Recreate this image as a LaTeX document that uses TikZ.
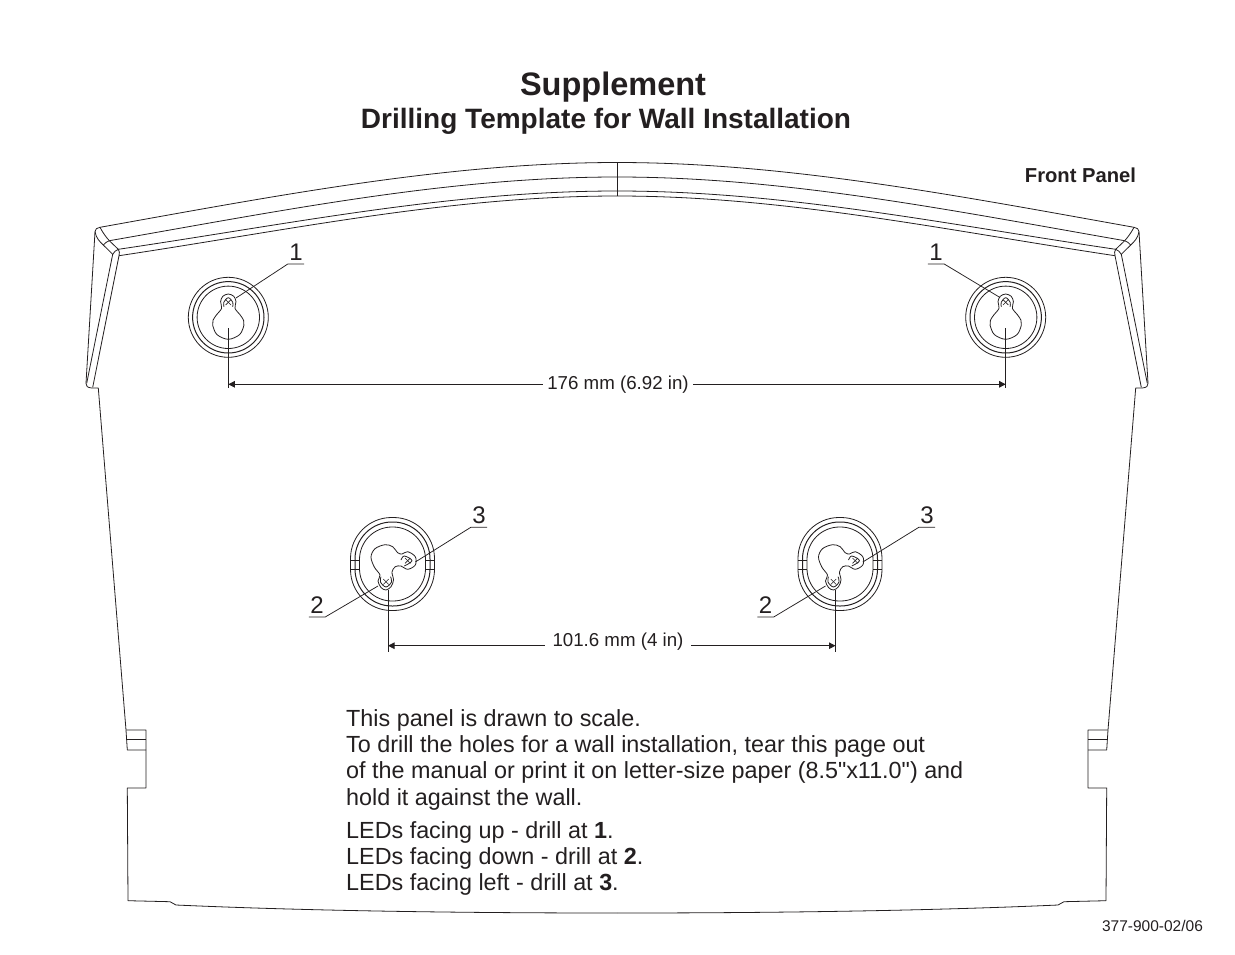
\documentclass[tikz,border=0pt]{standalone}
\usepackage{fontspec}
\setmainfont{Liberation Sans}[Ligatures=TeXOff]
\usepackage{xcolor}
\usetikzlibrary{arrows.meta}
\definecolor{inkblack}{HTML}{231F20}
\tikzset{
	panelline/.style={inkblack,line width=0.8pt,line join=round},
	leaderline/.style={inkblack,line width=0.75pt},
	dimline/.style={inkblack,line width=0.8pt,-{Triangle[length=6.5pt,width=6.5pt]}},
	callout/.style={inkblack,font=\fontsize{24}{24}\selectfont,inner xsep=0pt,inner ysep=3.5pt,minimum width=16pt,anchor=south},
	dimtext/.style={inkblack,font=\fontsize{18.7}{20}\selectfont,fill=white,inner ysep=1pt},
	bodytext/.style={inkblack,font=\fontsize{23.35}{26.3}\selectfont,align=left,anchor=north west,inner sep=0pt}
}
\newcommand{\screwcross}{
	\draw[leaderline,line width=0.6pt] (-2.7,-2.7) -- (2.7,2.7);
	\draw[leaderline,line width=0.6pt] (-2.7,2.7) -- (2.7,-2.7);
}
\begin{document}
\begin{tikzpicture}[x=1pt,y=-1pt]
\useasboundingbox (0,0) rectangle (1235,954);
\node (title) [inkblack,font=\fontsize{32.5}{34}\selectfont\bfseries] at (613,87) {Supplement};
\node (subtitle) [inkblack,font=\fontsize{28}{30}\selectfont\bfseries] at (606,121) {Drilling Template for Wall Installation};
\node (frontpanel) [inkblack,font=\fontsize{20.2}{22}\selectfont\bfseries] at (1080.5,175) {Front Panel};
\node (partno) [inkblack,font=\fontsize{15.5}{17}\selectfont] at (1152.5,926) {377-900-02/06};
% both halves of the panel outline
\foreach \s in {1,-1}
	{
	\begin{scope}[shift={(617,0)},xscale=\s,shift={(-617,0)}]
	\draw[panelline] (100,227.3) .. controls (280,195) and (450,162.5) .. (617,162.5);
	\draw[panelline] (109.3,240.7) .. controls (285,210) and (450,177) .. (617,177);
	\draw[panelline] (118.3,249.3) .. controls (290,224) and (450,191) .. (617,191);
	\draw[panelline] (119,255.7) .. controls (290,230) and (450,196) .. (617,196);
	\draw[panelline] (100,227.3) .. controls (97,227.8) and (95,229) .. (95,231.7) -- (86,383.3) .. controls (86,386) and (87,387.5) .. (91.7,388) -- (98.3,388) -- (126,730) -- (127.3,750) -- (146,750);
	\draw[panelline] (95,231.7) .. controls (96,238) and (100,242) .. (103.3,245) -- (112.7,254.3) -- (86.7,383.3);
	\draw[panelline] (100,227.3) .. controls (103,233) and (106,237) .. (109.3,240.7) -- (118.3,249.3) .. controls (119.5,251) and (119.8,253) .. (119,255.7) -- (92.7,387.3);
	\draw[panelline] (109.3,240.7) .. controls (107,241.5) and (105,243) .. (103.3,245);
	\draw[panelline] (118.3,249.3) .. controls (116,250) and (114,252) .. (112.7,254.3);
	\draw[panelline] (126,730) -- (146,730) -- (146,788) -- (127.3,788) -- (128,900.7) -- (170,901.7) -- (176,905) .. controls (300,910.5) and (450,913) .. (617,913);
	\draw[panelline] (126.8,739) -- (146,739);
	\end{scope}
	}
\draw[panelline] (617,162.5) -- (617,196);
% upper holes
\foreach \h/\hx in {a/228.3,b/1005.7}
	{
	\begin{scope}[shift={(\hx,317.3)}]
	\draw[panelline] (0,0) circle (40pt);
	\draw[panelline,line width=1pt] (0,0) circle (35.7pt);
	\draw[panelline] (0,0) circle (31.2pt);
	\draw[panelline] plot[smooth cycle,tension=0.55] coordinates {(0,-23.3) (-5.5,-21) (-7.7,-15.6) (-6.7,-9) (-11.7,-2.6) (-15.3,3) (-15.6,8) (-11.3,17.3) (0,22) (11.3,17.3) (15.6,8) (15.3,3) (11.7,-2.6) (6.7,-9) (7.7,-15.6) (5.5,-21)};
	\draw[panelline] plot[smooth,tension=0.6] coordinates {(-4.3,-10.6) (-4.5,-15) (0,-19.6) (4.5,-15) (4.3,-10.6)};
	\begin{scope}[shift={(0,-15)}]
	\screwcross
	\end{scope}
	\coordinate (stem\h) at (0,11);
	\coordinate (foot\h) at (0,71);
	\coordinate (drop\h) at (0,67);
	\end{scope}
	\draw[leaderline] (stem\h) -- (foot\h);
	}
\node (dimtop) [dimtext,inner xsep=4.5pt] at (618,385) {176 mm (6.92 in)};
\draw[dimline] (dimtop.west |- dropa) -- (dropa);
\draw[dimline] (dimtop.east |- dropb) -- (dropb);
% lower holes
\foreach \h/\hx in {c/392.5,d/840}
	{
	\begin{scope}[shift={(\hx,564)}]
	\draw[panelline,rounded corners=41pt] (-42,-46.5) rectangle (42,46.5);
	\draw[panelline,line width=1pt,rounded corners=37pt] (-37.5,-42) rectangle (37.5,42);
	\draw[panelline,rounded corners=32.5pt] (-33,-37) rectangle (33,37);
	\draw[panelline] (-42,-4) -- (-33,-4);
	\draw[panelline] (33,-4) -- (42,-4);
	\draw[panelline] (-42,5) -- (-33,5);
	\draw[panelline] (33,5) -- (42,5);
	\draw[panelline] plot[smooth cycle,tension=0.55] coordinates {(-18.2,3) (-21.5,-7) (-17.5,-15.3) (-7.5,-19.3) (0.2,-17.3) (5.2,-11.3) (9.5,-10) (15.2,-12.3) (22.8,-7.3) (22.8,1) (15.2,5.3) (8.5,2) (2.8,2.7) (-0.5,8) (1,16) (-1.5,22.7) (-6.5,26) (-11.5,23.5) (-14.5,17) (-12.5,11)};
	\draw[panelline] plot[smooth,tension=0.6] coordinates {(8.5,-4) (11.8,-8) (19.5,-3.3) (11.8,2)};
	\draw[panelline] plot[smooth,tension=0.6] coordinates {(-11.5,12.7) (-12,18) (-6.5,23) (-1,18) (-2,12.7)};
	\begin{scope}[shift={(15.2,-3.3)}]
	\screwcross
	\end{scope}
	\begin{scope}[shift={(-6.5,17.7)}]
	\screwcross
	\end{scope}
	\coordinate (stem\h) at (-4.5,26);
	\coordinate (foot\h) at (-4.5,87.5);
	\coordinate (drop\h) at (-4.5,81.7);
	\coordinate (lowend\h) at (-14.5,22);
	\coordinate (sideend\h) at (22.8,-2);
	\end{scope}
	\draw[leaderline] (stem\h) -- (foot\h);
	}
\node (dimlow) [dimtext,inner xsep=7.5pt] at (618,642) {101.6 mm (4 in)};
\draw[dimline] (dimlow.west |- dropc) -- (dropc);
\draw[dimline] (dimlow.east |- dropd) -- (dropd);
% callouts
\coordinate (screwa) at (236,298);
\coordinate (screwb) at (1000,297.5);
\node (onea) [callout] at (296,264) {1};
\node (oneb) [callout] at (936,264) {1};
\node (twoc) [callout] at (317,617) {2};
\node (twod) [callout] at (765.5,617) {2};
\node (threec) [callout] at (479,527.3) {3};
\node (threed) [callout] at (927,527.3) {3};
\draw[leaderline] (onea.south east) -- (onea.south west) -- (screwa);
\draw[leaderline] (oneb.south west) -- (oneb.south east) -- (screwb);
\draw[leaderline] (twoc.south west) -- (twoc.south east) -- (lowendc);
\draw[leaderline] (twod.south west) -- (twod.south east) -- (lowendd);
\draw[leaderline] (threec.south east) -- (threec.south west) -- (sideendc);
\draw[leaderline] (threed.south east) -- (threed.south west) -- (sideendd);
% text on the panel
\node (howto) [bodytext] at (346,709) {This panel is drawn to scale.\\To drill the holes for a wall installation, tear this page out\\of the manual or print it on letter-size paper (8.5"x11.0") and\\hold it against the wall.};
\node (ledtext) [bodytext] at (346,821) {LEDs facing up - drill at \textbf{1}.\\LEDs facing down - drill at \textbf{2}.\\LEDs facing left - drill at \textbf{3}.};
\end{tikzpicture}
\end{document}
